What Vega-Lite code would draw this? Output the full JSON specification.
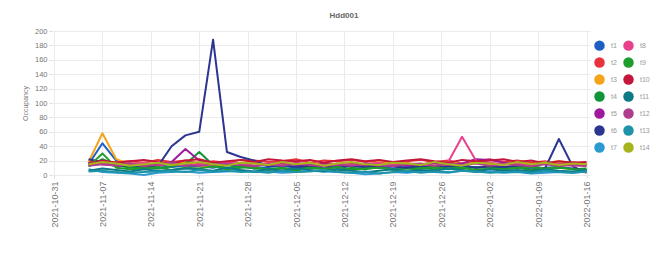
{
  "$schema": "https://vega.github.io/schema/vega-lite/v6.json",
  "autosize": "none",
  "padding": {"left": 52, "top": 31, "right": 66, "bottom": 85},
  "width": 538,
  "height": 144,
  "background": "white",
  "title": {"text": "Hdd001", "fontSize": 8, "color": "#666", "fontWeight": "bold", "anchor": "middle", "offset": 7, "dx": 23},
  "data": {"values": [
{"date":"2021-11-05","series":"t1","value":15},{"date":"2021-11-07","series":"t1","value":44},{"date":"2021-11-09","series":"t1","value":20},{"date":"2021-11-11","series":"t1","value":12},{"date":"2021-11-13","series":"t1","value":10},{"date":"2021-11-15","series":"t1","value":14},{"date":"2021-11-17","series":"t1","value":11},{"date":"2021-11-19","series":"t1","value":13},{"date":"2021-11-21","series":"t1","value":12},{"date":"2021-11-23","series":"t1","value":10},{"date":"2021-11-25","series":"t1","value":14},{"date":"2021-11-27","series":"t1","value":12},{"date":"2021-11-29","series":"t1","value":9},{"date":"2021-12-01","series":"t1","value":11},{"date":"2021-12-03","series":"t1","value":13},{"date":"2021-12-05","series":"t1","value":10},{"date":"2021-12-07","series":"t1","value":12},{"date":"2021-12-09","series":"t1","value":9},{"date":"2021-12-11","series":"t1","value":11},{"date":"2021-12-13","series":"t1","value":8},{"date":"2021-12-15","series":"t1","value":10},{"date":"2021-12-17","series":"t1","value":12},{"date":"2021-12-19","series":"t1","value":9},{"date":"2021-12-21","series":"t1","value":11},{"date":"2021-12-23","series":"t1","value":10},{"date":"2021-12-25","series":"t1","value":13},{"date":"2021-12-27","series":"t1","value":9},{"date":"2021-12-29","series":"t1","value":12},{"date":"2021-12-31","series":"t1","value":10},{"date":"2022-01-02","series":"t1","value":11},{"date":"2022-01-04","series":"t1","value":9},{"date":"2022-01-06","series":"t1","value":12},{"date":"2022-01-08","series":"t1","value":8},{"date":"2022-01-10","series":"t1","value":10},{"date":"2022-01-12","series":"t1","value":11},{"date":"2022-01-14","series":"t1","value":9},{"date":"2022-01-16","series":"t1","value":7},
{"date":"2021-11-05","series":"t2","value":20},{"date":"2021-11-07","series":"t2","value":16},{"date":"2021-11-09","series":"t2","value":18},{"date":"2021-11-11","series":"t2","value":19},{"date":"2021-11-13","series":"t2","value":17},{"date":"2021-11-15","series":"t2","value":21},{"date":"2021-11-17","series":"t2","value":18},{"date":"2021-11-19","series":"t2","value":20},{"date":"2021-11-21","series":"t2","value":16},{"date":"2021-11-23","series":"t2","value":19},{"date":"2021-11-25","series":"t2","value":17},{"date":"2021-11-27","series":"t2","value":21},{"date":"2021-11-29","series":"t2","value":20},{"date":"2021-12-01","series":"t2","value":18},{"date":"2021-12-03","series":"t2","value":19},{"date":"2021-12-05","series":"t2","value":22},{"date":"2021-12-07","series":"t2","value":17},{"date":"2021-12-09","series":"t2","value":20},{"date":"2021-12-11","series":"t2","value":19},{"date":"2021-12-13","series":"t2","value":21},{"date":"2021-12-15","series":"t2","value":18},{"date":"2021-12-17","series":"t2","value":20},{"date":"2021-12-19","series":"t2","value":17},{"date":"2021-12-21","series":"t2","value":19},{"date":"2021-12-23","series":"t2","value":21},{"date":"2021-12-25","series":"t2","value":18},{"date":"2021-12-27","series":"t2","value":20},{"date":"2021-12-29","series":"t2","value":16},{"date":"2021-12-31","series":"t2","value":19},{"date":"2022-01-02","series":"t2","value":22},{"date":"2022-01-04","series":"t2","value":18},{"date":"2022-01-06","series":"t2","value":20},{"date":"2022-01-08","series":"t2","value":17},{"date":"2022-01-10","series":"t2","value":19},{"date":"2022-01-12","series":"t2","value":16},{"date":"2022-01-14","series":"t2","value":18},{"date":"2022-01-16","series":"t2","value":15},
{"date":"2021-11-05","series":"t3","value":18},{"date":"2021-11-07","series":"t3","value":58},{"date":"2021-11-09","series":"t3","value":22},{"date":"2021-11-11","series":"t3","value":15},{"date":"2021-11-13","series":"t3","value":17},{"date":"2021-11-15","series":"t3","value":14},{"date":"2021-11-17","series":"t3","value":16},{"date":"2021-11-19","series":"t3","value":18},{"date":"2021-11-21","series":"t3","value":13},{"date":"2021-11-23","series":"t3","value":12},{"date":"2021-11-25","series":"t3","value":15},{"date":"2021-11-27","series":"t3","value":17},{"date":"2021-11-29","series":"t3","value":18},{"date":"2021-12-01","series":"t3","value":14},{"date":"2021-12-03","series":"t3","value":16},{"date":"2021-12-05","series":"t3","value":15},{"date":"2021-12-07","series":"t3","value":13},{"date":"2021-12-09","series":"t3","value":17},{"date":"2021-12-11","series":"t3","value":15},{"date":"2021-12-13","series":"t3","value":16},{"date":"2021-12-15","series":"t3","value":14},{"date":"2021-12-17","series":"t3","value":18},{"date":"2021-12-19","series":"t3","value":15},{"date":"2021-12-21","series":"t3","value":17},{"date":"2021-12-23","series":"t3","value":13},{"date":"2021-12-25","series":"t3","value":16},{"date":"2021-12-27","series":"t3","value":18},{"date":"2021-12-29","series":"t3","value":15},{"date":"2021-12-31","series":"t3","value":17},{"date":"2022-01-02","series":"t3","value":14},{"date":"2022-01-04","series":"t3","value":16},{"date":"2022-01-06","series":"t3","value":18},{"date":"2022-01-08","series":"t3","value":15},{"date":"2022-01-10","series":"t3","value":17},{"date":"2022-01-12","series":"t3","value":19},{"date":"2022-01-14","series":"t3","value":17},{"date":"2022-01-16","series":"t3","value":16},
{"date":"2021-11-05","series":"t4","value":12},{"date":"2021-11-07","series":"t4","value":22},{"date":"2021-11-09","series":"t4","value":14},{"date":"2021-11-11","series":"t4","value":10},{"date":"2021-11-13","series":"t4","value":11},{"date":"2021-11-15","series":"t4","value":9},{"date":"2021-11-17","series":"t4","value":12},{"date":"2021-11-19","series":"t4","value":15},{"date":"2021-11-21","series":"t4","value":32},{"date":"2021-11-23","series":"t4","value":14},{"date":"2021-11-25","series":"t4","value":10},{"date":"2021-11-27","series":"t4","value":12},{"date":"2021-11-29","series":"t4","value":9},{"date":"2021-12-01","series":"t4","value":8},{"date":"2021-12-03","series":"t4","value":10},{"date":"2021-12-05","series":"t4","value":7},{"date":"2021-12-07","series":"t4","value":11},{"date":"2021-12-09","series":"t4","value":9},{"date":"2021-12-11","series":"t4","value":5},{"date":"2021-12-13","series":"t4","value":10},{"date":"2021-12-15","series":"t4","value":8},{"date":"2021-12-17","series":"t4","value":11},{"date":"2021-12-19","series":"t4","value":7},{"date":"2021-12-21","series":"t4","value":9},{"date":"2021-12-23","series":"t4","value":10},{"date":"2021-12-25","series":"t4","value":8},{"date":"2021-12-27","series":"t4","value":12},{"date":"2021-12-29","series":"t4","value":9},{"date":"2021-12-31","series":"t4","value":11},{"date":"2022-01-02","series":"t4","value":10},{"date":"2022-01-04","series":"t4","value":8},{"date":"2022-01-06","series":"t4","value":10},{"date":"2022-01-08","series":"t4","value":7},{"date":"2022-01-10","series":"t4","value":9},{"date":"2022-01-12","series":"t4","value":11},{"date":"2022-01-14","series":"t4","value":8},{"date":"2022-01-16","series":"t4","value":9},
{"date":"2021-11-05","series":"t5","value":17},{"date":"2021-11-07","series":"t5","value":15},{"date":"2021-11-09","series":"t5","value":13},{"date":"2021-11-11","series":"t5","value":16},{"date":"2021-11-13","series":"t5","value":14},{"date":"2021-11-15","series":"t5","value":12},{"date":"2021-11-17","series":"t5","value":18},{"date":"2021-11-19","series":"t5","value":36},{"date":"2021-11-21","series":"t5","value":20},{"date":"2021-11-23","series":"t5","value":15},{"date":"2021-11-25","series":"t5","value":14},{"date":"2021-11-27","series":"t5","value":16},{"date":"2021-11-29","series":"t5","value":13},{"date":"2021-12-01","series":"t5","value":15},{"date":"2021-12-03","series":"t5","value":17},{"date":"2021-12-05","series":"t5","value":14},{"date":"2021-12-07","series":"t5","value":12},{"date":"2021-12-09","series":"t5","value":16},{"date":"2021-12-11","series":"t5","value":13},{"date":"2021-12-13","series":"t5","value":15},{"date":"2021-12-15","series":"t5","value":14},{"date":"2021-12-17","series":"t5","value":12},{"date":"2021-12-19","series":"t5","value":16},{"date":"2021-12-21","series":"t5","value":13},{"date":"2021-12-23","series":"t5","value":15},{"date":"2021-12-25","series":"t5","value":17},{"date":"2021-12-27","series":"t5","value":14},{"date":"2021-12-29","series":"t5","value":16},{"date":"2021-12-31","series":"t5","value":22},{"date":"2022-01-02","series":"t5","value":21},{"date":"2022-01-04","series":"t5","value":17},{"date":"2022-01-06","series":"t5","value":15},{"date":"2022-01-08","series":"t5","value":14},{"date":"2022-01-10","series":"t5","value":16},{"date":"2022-01-12","series":"t5","value":13},{"date":"2022-01-14","series":"t5","value":15},{"date":"2022-01-16","series":"t5","value":14},
{"date":"2021-11-05","series":"t6","value":22},{"date":"2021-11-07","series":"t6","value":18},{"date":"2021-11-09","series":"t6","value":12},{"date":"2021-11-11","series":"t6","value":14},{"date":"2021-11-13","series":"t6","value":13},{"date":"2021-11-15","series":"t6","value":12},{"date":"2021-11-17","series":"t6","value":40},{"date":"2021-11-19","series":"t6","value":55},{"date":"2021-11-21","series":"t6","value":60},{"date":"2021-11-23","series":"t6","value":188},{"date":"2021-11-25","series":"t6","value":32},{"date":"2021-11-27","series":"t6","value":25},{"date":"2021-11-29","series":"t6","value":20},{"date":"2021-12-01","series":"t6","value":12},{"date":"2021-12-03","series":"t6","value":14},{"date":"2021-12-05","series":"t6","value":11},{"date":"2021-12-07","series":"t6","value":13},{"date":"2021-12-09","series":"t6","value":12},{"date":"2021-12-11","series":"t6","value":10},{"date":"2021-12-13","series":"t6","value":13},{"date":"2021-12-15","series":"t6","value":11},{"date":"2021-12-17","series":"t6","value":14},{"date":"2021-12-19","series":"t6","value":12},{"date":"2021-12-21","series":"t6","value":10},{"date":"2021-12-23","series":"t6","value":13},{"date":"2021-12-25","series":"t6","value":11},{"date":"2021-12-27","series":"t6","value":12},{"date":"2021-12-29","series":"t6","value":14},{"date":"2021-12-31","series":"t6","value":10},{"date":"2022-01-02","series":"t6","value":12},{"date":"2022-01-04","series":"t6","value":11},{"date":"2022-01-06","series":"t6","value":13},{"date":"2022-01-08","series":"t6","value":12},{"date":"2022-01-10","series":"t6","value":9},{"date":"2022-01-12","series":"t6","value":50},{"date":"2022-01-14","series":"t6","value":12},{"date":"2022-01-16","series":"t6","value":3},
{"date":"2021-11-05","series":"t7","value":8},{"date":"2021-11-07","series":"t7","value":4},{"date":"2021-11-09","series":"t7","value":3},{"date":"2021-11-11","series":"t7","value":2},{"date":"2021-11-13","series":"t7","value":0},{"date":"2021-11-15","series":"t7","value":3},{"date":"2021-11-17","series":"t7","value":4},{"date":"2021-11-19","series":"t7","value":5},{"date":"2021-11-21","series":"t7","value":3},{"date":"2021-11-23","series":"t7","value":4},{"date":"2021-11-25","series":"t7","value":5},{"date":"2021-11-27","series":"t7","value":6},{"date":"2021-11-29","series":"t7","value":4},{"date":"2021-12-01","series":"t7","value":5},{"date":"2021-12-03","series":"t7","value":3},{"date":"2021-12-05","series":"t7","value":4},{"date":"2021-12-07","series":"t7","value":6},{"date":"2021-12-09","series":"t7","value":5},{"date":"2021-12-11","series":"t7","value":4},{"date":"2021-12-13","series":"t7","value":3},{"date":"2021-12-15","series":"t7","value":1},{"date":"2021-12-17","series":"t7","value":2},{"date":"2021-12-19","series":"t7","value":4},{"date":"2021-12-21","series":"t7","value":3},{"date":"2021-12-23","series":"t7","value":5},{"date":"2021-12-25","series":"t7","value":4},{"date":"2021-12-27","series":"t7","value":3},{"date":"2021-12-29","series":"t7","value":6},{"date":"2021-12-31","series":"t7","value":4},{"date":"2022-01-02","series":"t7","value":5},{"date":"2022-01-04","series":"t7","value":3},{"date":"2022-01-06","series":"t7","value":4},{"date":"2022-01-08","series":"t7","value":2},{"date":"2022-01-10","series":"t7","value":3},{"date":"2022-01-12","series":"t7","value":4},{"date":"2022-01-14","series":"t7","value":3},{"date":"2022-01-16","series":"t7","value":5},
{"date":"2021-11-05","series":"t8","value":14},{"date":"2021-11-07","series":"t8","value":16},{"date":"2021-11-09","series":"t8","value":13},{"date":"2021-11-11","series":"t8","value":15},{"date":"2021-11-13","series":"t8","value":17},{"date":"2021-11-15","series":"t8","value":14},{"date":"2021-11-17","series":"t8","value":16},{"date":"2021-11-19","series":"t8","value":13},{"date":"2021-11-21","series":"t8","value":15},{"date":"2021-11-23","series":"t8","value":17},{"date":"2021-11-25","series":"t8","value":18},{"date":"2021-11-27","series":"t8","value":15},{"date":"2021-11-29","series":"t8","value":13},{"date":"2021-12-01","series":"t8","value":16},{"date":"2021-12-03","series":"t8","value":14},{"date":"2021-12-05","series":"t8","value":17},{"date":"2021-12-07","series":"t8","value":15},{"date":"2021-12-09","series":"t8","value":13},{"date":"2021-12-11","series":"t8","value":16},{"date":"2021-12-13","series":"t8","value":14},{"date":"2021-12-15","series":"t8","value":15},{"date":"2021-12-17","series":"t8","value":17},{"date":"2021-12-19","series":"t8","value":14},{"date":"2021-12-21","series":"t8","value":16},{"date":"2021-12-23","series":"t8","value":15},{"date":"2021-12-25","series":"t8","value":13},{"date":"2021-12-27","series":"t8","value":18},{"date":"2021-12-29","series":"t8","value":53},{"date":"2021-12-31","series":"t8","value":20},{"date":"2022-01-02","series":"t8","value":17},{"date":"2022-01-04","series":"t8","value":15},{"date":"2022-01-06","series":"t8","value":16},{"date":"2022-01-08","series":"t8","value":14},{"date":"2022-01-10","series":"t8","value":17},{"date":"2022-01-12","series":"t8","value":15},{"date":"2022-01-14","series":"t8","value":13},{"date":"2022-01-16","series":"t8","value":14},
{"date":"2021-11-05","series":"t9","value":12},{"date":"2021-11-07","series":"t9","value":30},{"date":"2021-11-09","series":"t9","value":10},{"date":"2021-11-11","series":"t9","value":8},{"date":"2021-11-13","series":"t9","value":9},{"date":"2021-11-15","series":"t9","value":11},{"date":"2021-11-17","series":"t9","value":7},{"date":"2021-11-19","series":"t9","value":10},{"date":"2021-11-21","series":"t9","value":9},{"date":"2021-11-23","series":"t9","value":12},{"date":"2021-11-25","series":"t9","value":8},{"date":"2021-11-27","series":"t9","value":10},{"date":"2021-11-29","series":"t9","value":11},{"date":"2021-12-01","series":"t9","value":7},{"date":"2021-12-03","series":"t9","value":9},{"date":"2021-12-05","series":"t9","value":6},{"date":"2021-12-07","series":"t9","value":10},{"date":"2021-12-09","series":"t9","value":8},{"date":"2021-12-11","series":"t9","value":11},{"date":"2021-12-13","series":"t9","value":7},{"date":"2021-12-15","series":"t9","value":9},{"date":"2021-12-17","series":"t9","value":10},{"date":"2021-12-19","series":"t9","value":8},{"date":"2021-12-21","series":"t9","value":6},{"date":"2021-12-23","series":"t9","value":9},{"date":"2021-12-25","series":"t9","value":11},{"date":"2021-12-27","series":"t9","value":8},{"date":"2021-12-29","series":"t9","value":10},{"date":"2021-12-31","series":"t9","value":7},{"date":"2022-01-02","series":"t9","value":9},{"date":"2022-01-04","series":"t9","value":8},{"date":"2022-01-06","series":"t9","value":10},{"date":"2022-01-08","series":"t9","value":11},{"date":"2022-01-10","series":"t9","value":9},{"date":"2022-01-12","series":"t9","value":10},{"date":"2022-01-14","series":"t9","value":8},{"date":"2022-01-16","series":"t9","value":7},
{"date":"2021-11-05","series":"t10","value":16},{"date":"2021-11-07","series":"t10","value":20},{"date":"2021-11-09","series":"t10","value":17},{"date":"2021-11-11","series":"t10","value":19},{"date":"2021-11-13","series":"t10","value":21},{"date":"2021-11-15","series":"t10","value":18},{"date":"2021-11-17","series":"t10","value":16},{"date":"2021-11-19","series":"t10","value":20},{"date":"2021-11-21","series":"t10","value":22},{"date":"2021-11-23","series":"t10","value":17},{"date":"2021-11-25","series":"t10","value":19},{"date":"2021-11-27","series":"t10","value":21},{"date":"2021-11-29","series":"t10","value":18},{"date":"2021-12-01","series":"t10","value":22},{"date":"2021-12-03","series":"t10","value":20},{"date":"2021-12-05","series":"t10","value":19},{"date":"2021-12-07","series":"t10","value":21},{"date":"2021-12-09","series":"t10","value":17},{"date":"2021-12-11","series":"t10","value":20},{"date":"2021-12-13","series":"t10","value":22},{"date":"2021-12-15","series":"t10","value":19},{"date":"2021-12-17","series":"t10","value":21},{"date":"2021-12-19","series":"t10","value":18},{"date":"2021-12-21","series":"t10","value":20},{"date":"2021-12-23","series":"t10","value":22},{"date":"2021-12-25","series":"t10","value":19},{"date":"2021-12-27","series":"t10","value":17},{"date":"2021-12-29","series":"t10","value":21},{"date":"2021-12-31","series":"t10","value":19},{"date":"2022-01-02","series":"t10","value":20},{"date":"2022-01-04","series":"t10","value":22},{"date":"2022-01-06","series":"t10","value":18},{"date":"2022-01-08","series":"t10","value":20},{"date":"2022-01-10","series":"t10","value":16},{"date":"2022-01-12","series":"t10","value":19},{"date":"2022-01-14","series":"t10","value":17},{"date":"2022-01-16","series":"t10","value":18},
{"date":"2021-11-05","series":"t11","value":6},{"date":"2021-11-07","series":"t11","value":9},{"date":"2021-11-09","series":"t11","value":7},{"date":"2021-11-11","series":"t11","value":5},{"date":"2021-11-13","series":"t11","value":8},{"date":"2021-11-15","series":"t11","value":6},{"date":"2021-11-17","series":"t11","value":7},{"date":"2021-11-19","series":"t11","value":9},{"date":"2021-11-21","series":"t11","value":8},{"date":"2021-11-23","series":"t11","value":6},{"date":"2021-11-25","series":"t11","value":10},{"date":"2021-11-27","series":"t11","value":7},{"date":"2021-11-29","series":"t11","value":5},{"date":"2021-12-01","series":"t11","value":8},{"date":"2021-12-03","series":"t11","value":6},{"date":"2021-12-05","series":"t11","value":9},{"date":"2021-12-07","series":"t11","value":7},{"date":"2021-12-09","series":"t11","value":5},{"date":"2021-12-11","series":"t11","value":8},{"date":"2021-12-13","series":"t11","value":6},{"date":"2021-12-15","series":"t11","value":4},{"date":"2021-12-17","series":"t11","value":6},{"date":"2021-12-19","series":"t11","value":8},{"date":"2021-12-21","series":"t11","value":5},{"date":"2021-12-23","series":"t11","value":7},{"date":"2021-12-25","series":"t11","value":6},{"date":"2021-12-27","series":"t11","value":9},{"date":"2021-12-29","series":"t11","value":7},{"date":"2021-12-31","series":"t11","value":5},{"date":"2022-01-02","series":"t11","value":8},{"date":"2022-01-04","series":"t11","value":6},{"date":"2022-01-06","series":"t11","value":7},{"date":"2022-01-08","series":"t11","value":5},{"date":"2022-01-10","series":"t11","value":8},{"date":"2022-01-12","series":"t11","value":6},{"date":"2022-01-14","series":"t11","value":5},{"date":"2022-01-16","series":"t11","value":7},
{"date":"2021-11-05","series":"t12","value":13},{"date":"2021-11-07","series":"t12","value":15},{"date":"2021-11-09","series":"t12","value":14},{"date":"2021-11-11","series":"t12","value":16},{"date":"2021-11-13","series":"t12","value":12},{"date":"2021-11-15","series":"t12","value":15},{"date":"2021-11-17","series":"t12","value":17},{"date":"2021-11-19","series":"t12","value":14},{"date":"2021-11-21","series":"t12","value":13},{"date":"2021-11-23","series":"t12","value":15},{"date":"2021-11-25","series":"t12","value":16},{"date":"2021-11-27","series":"t12","value":14},{"date":"2021-11-29","series":"t12","value":12},{"date":"2021-12-01","series":"t12","value":15},{"date":"2021-12-03","series":"t12","value":13},{"date":"2021-12-05","series":"t12","value":16},{"date":"2021-12-07","series":"t12","value":14},{"date":"2021-12-09","series":"t12","value":12},{"date":"2021-12-11","series":"t12","value":15},{"date":"2021-12-13","series":"t12","value":13},{"date":"2021-12-15","series":"t12","value":16},{"date":"2021-12-17","series":"t12","value":14},{"date":"2021-12-19","series":"t12","value":12},{"date":"2021-12-21","series":"t12","value":15},{"date":"2021-12-23","series":"t12","value":16},{"date":"2021-12-25","series":"t12","value":13},{"date":"2021-12-27","series":"t12","value":15},{"date":"2021-12-29","series":"t12","value":14},{"date":"2021-12-31","series":"t12","value":16},{"date":"2022-01-02","series":"t12","value":13},{"date":"2022-01-04","series":"t12","value":15},{"date":"2022-01-06","series":"t12","value":14},{"date":"2022-01-08","series":"t12","value":12},{"date":"2022-01-10","series":"t12","value":15},{"date":"2022-01-12","series":"t12","value":13},{"date":"2022-01-14","series":"t12","value":14},{"date":"2022-01-16","series":"t12","value":12},
{"date":"2021-11-05","series":"t13","value":5},{"date":"2021-11-07","series":"t13","value":6},{"date":"2021-11-09","series":"t13","value":4},{"date":"2021-11-11","series":"t13","value":3},{"date":"2021-11-13","series":"t13","value":4},{"date":"2021-11-15","series":"t13","value":5},{"date":"2021-11-17","series":"t13","value":6},{"date":"2021-11-19","series":"t13","value":4},{"date":"2021-11-21","series":"t13","value":7},{"date":"2021-11-23","series":"t13","value":5},{"date":"2021-11-25","series":"t13","value":6},{"date":"2021-11-27","series":"t13","value":4},{"date":"2021-11-29","series":"t13","value":5},{"date":"2021-12-01","series":"t13","value":3},{"date":"2021-12-03","series":"t13","value":6},{"date":"2021-12-05","series":"t13","value":4},{"date":"2021-12-07","series":"t13","value":5},{"date":"2021-12-09","series":"t13","value":7},{"date":"2021-12-11","series":"t13","value":4},{"date":"2021-12-13","series":"t13","value":3},{"date":"2021-12-15","series":"t13","value":5},{"date":"2021-12-17","series":"t13","value":2},{"date":"2021-12-19","series":"t13","value":4},{"date":"2021-12-21","series":"t13","value":6},{"date":"2021-12-23","series":"t13","value":3},{"date":"2021-12-25","series":"t13","value":5},{"date":"2021-12-27","series":"t13","value":4},{"date":"2021-12-29","series":"t13","value":6},{"date":"2021-12-31","series":"t13","value":5},{"date":"2022-01-02","series":"t13","value":3},{"date":"2022-01-04","series":"t13","value":4},{"date":"2022-01-06","series":"t13","value":5},{"date":"2022-01-08","series":"t13","value":3},{"date":"2022-01-10","series":"t13","value":6},{"date":"2022-01-12","series":"t13","value":4},{"date":"2022-01-14","series":"t13","value":3},{"date":"2022-01-16","series":"t13","value":5},
{"date":"2021-11-05","series":"t14","value":15},{"date":"2021-11-07","series":"t14","value":18},{"date":"2021-11-09","series":"t14","value":16},{"date":"2021-11-11","series":"t14","value":13},{"date":"2021-11-13","series":"t14","value":15},{"date":"2021-11-15","series":"t14","value":17},{"date":"2021-11-17","series":"t14","value":14},{"date":"2021-11-19","series":"t14","value":16},{"date":"2021-11-21","series":"t14","value":18},{"date":"2021-11-23","series":"t14","value":15},{"date":"2021-11-25","series":"t14","value":13},{"date":"2021-11-27","series":"t14","value":17},{"date":"2021-11-29","series":"t14","value":16},{"date":"2021-12-01","series":"t14","value":14},{"date":"2021-12-03","series":"t14","value":18},{"date":"2021-12-05","series":"t14","value":15},{"date":"2021-12-07","series":"t14","value":17},{"date":"2021-12-09","series":"t14","value":13},{"date":"2021-12-11","series":"t14","value":16},{"date":"2021-12-13","series":"t14","value":18},{"date":"2021-12-15","series":"t14","value":15},{"date":"2021-12-17","series":"t14","value":14},{"date":"2021-12-19","series":"t14","value":17},{"date":"2021-12-21","series":"t14","value":16},{"date":"2021-12-23","series":"t14","value":14},{"date":"2021-12-25","series":"t14","value":18},{"date":"2021-12-27","series":"t14","value":15},{"date":"2021-12-29","series":"t14","value":13},{"date":"2021-12-31","series":"t14","value":17},{"date":"2022-01-02","series":"t14","value":16},{"date":"2022-01-04","series":"t14","value":14},{"date":"2022-01-06","series":"t14","value":18},{"date":"2022-01-08","series":"t14","value":15},{"date":"2022-01-10","series":"t14","value":17},{"date":"2022-01-12","series":"t14","value":14},{"date":"2022-01-14","series":"t14","value":16},{"date":"2022-01-16","series":"t14","value":15}
  ]},
  "mark": {"type": "line", "strokeWidth": 2, "strokeJoin": "round"},
  "encoding": {
    "x": {
      "field": "date", "type": "temporal",
      "scale": {"type": "utc", "domain": [{"year": 2021, "month": 10, "date": 30, "hours": 17, "utc": true}, {"year": 2022, "month": 1, "date": 16, "hours": 12, "utc": true}]},
      "axis": {"title": null, "format": "%Y-%m-%d", "labelAngle": -90, "labelFontSize": 9, "tickCount": {"interval": "week", "step": 1}, "tickSize": 3, "labelPadding": 3, "domain": false}
    },
    "y": {
      "field": "value", "type": "quantitative",
      "scale": {"domain": [0, 200], "nice": false},
      "axis": {"title": "Occupancy", "values": [0, 20, 40, 60, 80, 100, 120, 140, 160, 180, 200], "tickSize": 3, "labelPadding": 2, "titlePadding": 6, "domain": false}
    },
    "color": {
      "field": "series", "type": "nominal",
      "scale": {
        "domain": ["t1", "t2", "t3", "t4", "t5", "t6", "t7", "t8", "t9", "t10", "t11", "t12", "t13", "t14"],
        "range": ["#1f5fc4", "#e8333c", "#f5a31a", "#129438", "#a0189c", "#2c3590", "#2a9ad0", "#e8408c", "#1f9e2e", "#c4163a", "#0c7a86", "#b03c8c", "#1f93a8", "#a8b41c"]
      },
      "legend": {
        "title": null, "orient": "none", "legendX": 542, "legendY": 9, "columns": 2,
        "symbolType": "circle", "symbolSize": 110, "symbolStrokeWidth": 0, "symbolOpacity": 1,
        "labelFontSize": 7, "labelColor": "#999", "rowPadding": 6, "columnPadding": 6, "labelOffset": 6, "padding": 0,
        "encode": {"symbols": {"update": {"fill": {"scale": "color", "field": "value"}, "strokeWidth": {"value": 0}}}}
      }
    }
  },
  "config": {
    "font": "Liberation Sans",
    "view": {"stroke": null},
    "axis": {"gridColor": "#ebebeb", "labelColor": "#777", "labelFontSize": 7.5, "titleFontSize": 7, "titleColor": "#777", "titleFontWeight": "normal", "tickColor": "#ddd"}
  }
}
